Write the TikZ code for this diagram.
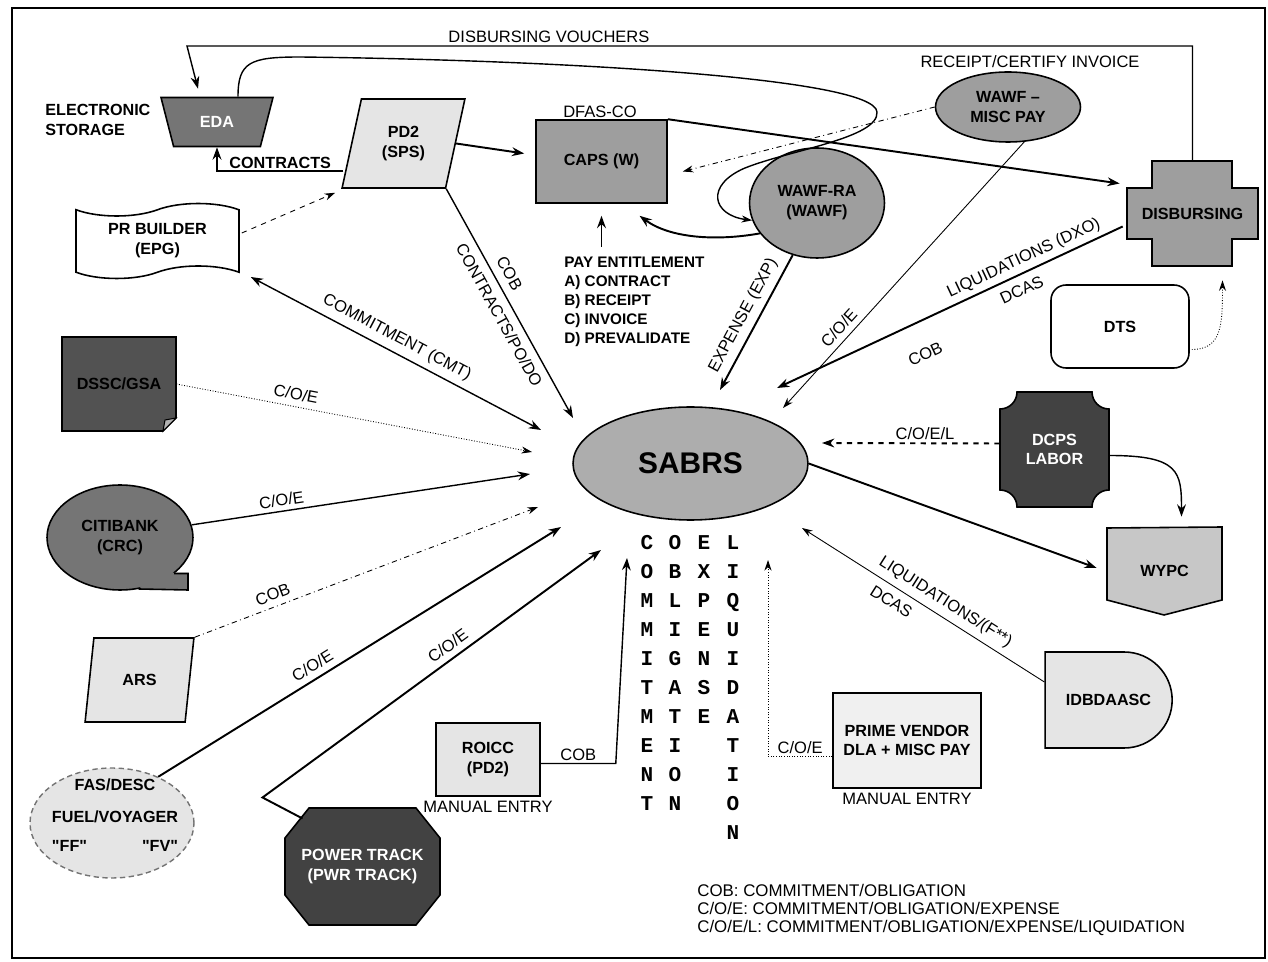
\documentclass[tikz,border=0pt]{standalone}
\usepackage{fontspec}
\setmainfont{Liberation Sans}
\newfontfamily\letterfont{Liberation Mono}
\newfontfamily\rawsans{Liberation Sans}[Ligatures=TeXOff]
\usetikzlibrary{arrows.meta,positioning,shapes.geometric,shapes.symbols,shapes.misc}
\colorlet{shadeD}{black!74}
\colorlet{shadeDM}{black!54}
\colorlet{shadeM}{black!38}
\colorlet{shadeW}{black!22}
\colorlet{shadeL}{black!10}
\newcommand\lblfont{\fontsize{9.4}{11}\selectfont}
\newcommand\boxfont{\fontsize{9.2}{11.3}\selectfont\bfseries}
\tikzset{
  box/.style={draw, line width=0.9pt, font=\boxfont, align=center, inner sep=0pt},
  tag/.style={font=\boxfont, align=center, inner sep=0pt},
  lbl/.style={font=\lblfont, inner sep=1.5pt},
  arr/.style={line width=1.1pt, -{Stealth[length=7pt,width=5pt]}},
  midarr/.style={line width=0.8pt, -{Stealth[length=7pt,width=5pt]}},
  thinarr/.style={line width=0.5pt, -{Stealth[length=6pt,width=4pt]}},
  botharr/.style={line width=0.8pt, {Stealth[length=7pt,width=5pt]}-{Stealth[length=7pt,width=5pt]}},
  letters/.style={font=\fontsize{12}{16.5}\selectfont\letterfont\bfseries, align=center, inner sep=0pt, anchor=north},
  para/.style={trapezium, trapezium left angle=74, trapezium right angle=106, trapezium stretches=true},
}
\begin{document}
\begin{tikzpicture}[x=0.02cm, y=-0.02cm]
\useasboundingbox (0,0) rectangle (1268,962);
\draw[line width=1pt] (12,8) rectangle (1265,958);

\node[box, trapezium, trapezium left angle=66, trapezium right angle=66, shape border rotate=180,
  trapezium stretches=true, minimum width=2.24cm, minimum height=0.98cm, fill=shadeDM, text=white] (EDA) at (217,122) {EDA};
\node[tag, anchor=west, align=left] (STOR) at (45,120) {ELECTRONIC\\STORAGE};
\node[box, para, fill=shadeL, minimum width=2.46cm, minimum height=1.78cm] (PD2) at (403.5,143.5) {PD2\\(SPS)};
\node[box, tape, fill=white, minimum width=3.26cm, minimum height=1.5cm, tape bend height=0.25cm] (PRB) at (157.5,241) {PR BUILDER\\(EPG)};
\node[box, fill=shadeM, minimum width=2.62cm, minimum height=1.66cm] (CAPS) at (601.5,161.5) {CAPS (W)};
\node[lbl] at (600,112) {DFAS-CO};
\node[box, ellipse, fill=shadeM, minimum width=2.7cm, minimum height=2.2cm] (WRA) at (817,203) {WAWF-RA\\(WAWF)};
\node[box, ellipse, fill=shadeM, minimum width=2.9cm, minimum height=1.4cm] (WMP) at (1008,107) {WAWF --\\MISC PAY};
\node[lbl] at (1030,62) {RECEIPT/CERTIFY INVOICE};
\filldraw[fill=shadeM, line width=0.9pt] (1152,161) -- (1232,161) -- (1232,188) -- (1258,188) -- (1258,239) -- (1232,239)
  -- (1232,266) -- (1152,266) -- (1152,239) -- (1127,239) -- (1127,188) -- (1152,188) -- cycle;
\node[tag, minimum width=2.62cm, minimum height=2.1cm] (DISB) at (1192.5,213.5) {DISBURSING};
\node[box, rounded corners=0.3cm, minimum width=2.76cm, minimum height=1.66cm] (DTS) at (1120,326.5) {DTS};
\node[tag, font=\fontsize{8.7}{10.7}\selectfont\bfseries, anchor=north west, align=left] (PAY) at (564,257)
  {PAY ENTITLEMENT\\A) CONTRACT\\B) RECEIPT\\C) INVOICE\\D) PREVALIDATE};

\node[box, ellipse, fill=black!32, minimum width=4.7cm, minimum height=2.26cm, font=\fontsize{17}{20}\selectfont\bfseries] (SABRS) at (690.5,463.5) {SABRS};
\node[letters] at (647,535) {C\\O\\M\\M\\I\\T\\M\\E\\N\\T};
\node[letters] at (675,535) {O\\B\\L\\I\\G\\A\\T\\I\\O\\N};
\node[letters] at (704,535) {E\\X\\P\\E\\N\\S\\E};
\node[letters] at (733,535) {L\\I\\Q\\U\\I\\D\\A\\T\\I\\O\\N};

\filldraw[fill=black!68, line width=0.9pt] (62,337) -- (176,337) -- (176,418) -- (163,431) -- (62,431) -- cycle;
\filldraw[fill=black!30, line width=0.6pt] (176,418) -- (165,420) -- (163,431) -- cycle;
\node[tag, minimum width=2.28cm, minimum height=1.88cm] (DSSC) at (119,384) {DSSC/GSA};
\node[box, ellipse, fill=shadeDM, minimum width=2.92cm, minimum height=2.1cm] (CITI) at (120,537.5) {CITIBANK\\(CRC)};
\fill[shadeDM] (160,566) -- (174,573) -- (188,573) -- (188,590) -- (138,590) -- cycle;
\draw[line width=0.9pt] (174,573.5) -- (188,573.5) -- (188,590) -- (139,589);
\node[box, para, fill=shadeL, minimum width=2.18cm, minimum height=1.68cm] (ARS) at (139.5,680) {ARS};
\node[ellipse, draw=black!55, densely dashed, line width=0.8pt, fill=shadeL, minimum width=3.28cm, minimum height=2.2cm] (FAS) at (112,823) {};
\node[tag] at ([shift={(3,-8)}]FAS.center) {FAS/DESC\\[7pt]FUEL/VOYAGER\\[5pt]{\rawsans"FF"}\hspace{1.1cm}{\rawsans"FV"}};
\filldraw[fill=shadeD, line width=0.9pt] (309,808) -- (416,808) -- (440,838) -- (440,895) -- (416,925) -- (309,925) -- (285,895) -- (285,838) -- cycle;
\node[tag, text=white, minimum width=3.1cm, minimum height=2.34cm] (PWR) at (362.5,866.5) {POWER TRACK\\(PWR TRACK)};
\node[box, fill=shadeL, minimum width=2.08cm, minimum height=1.46cm] (ROICC) at (488,759.5) {ROICC\\(PD2)};
\node[lbl, below=1pt of ROICC] {MANUAL ENTRY};
\node[box, fill=black!6, minimum width=2.96cm, minimum height=1.9cm] (PRIME) at (907,740.5) {PRIME VENDOR\\DLA + MISC PAY};
\node[lbl, below=1pt of PRIME] {MANUAL ENTRY};

\filldraw[fill=shadeD, line width=0.9pt] (1017,392) -- (1092,392) arc (180:90:17) -- (1109,490) arc (270:180:17)
  -- (1017,507) arc (0:-90:17) -- (1000,409) arc (90:0:17) -- cycle;
\node[tag, text=white, minimum width=2.18cm, minimum height=2.3cm] (DCPS) at (1054.5,449.5) {DCPS\\LABOR};
\filldraw[fill=shadeW, line width=0.9pt] (1107,528) -- (1222,527) -- (1222,600) -- (1164,615) -- (1107,600) -- cycle;
\node[tag, minimum width=2.3cm, minimum height=1.76cm] (WYPC) at (1164.5,571) {WYPC};
\node[box, rounded rectangle, rounded rectangle left arc=none, fill=shadeL, minimum width=2.54cm, minimum height=1.92cm] (IDB) at (1108.5,700) {IDBDAASC};

\node[lbl, anchor=north west, align=left, font=\fontsize{9.6}{10.3}\selectfont, inner sep=0pt] (KEY) at (697,884)
  {COB: COMMITMENT/OBLIGATION\\C/O/E: COMMITMENT/OBLIGATION/EXPENSE\\C/O/E/L: COMMITMENT/OBLIGATION/EXPENSE/LIQUIDATION};

\coordinate (dvL) at (187,46);
\coordinate (inCON) at (573,418);
\coordinate (inCMT) at (541,430);
\coordinate (inDSSC) at (532,452);
\coordinate (inCITI) at (530,474);
\coordinate (inARS) at (538,507);
\coordinate (inFAS) at (561,527);
\coordinate (inPWR) at (601,550);
\coordinate (inROICC) at (627,558);
\coordinate (inPRIME) at (768,560);
\coordinate (inIDB) at (802,528);
\coordinate (inDCPS) at (822,443);
\coordinate (inMISC) at (783,408);
\coordinate (inLIQ) at (777,388);
\coordinate (inEXP) at (720,390);

\draw[midarr] (DISB.north) |- node[lbl, above, pos=0.82] {DISBURSING VOUCHERS} (dvL) -- ([shift={(-19,-8)}]EDA.90);
\draw[line width=0.8pt, -{Stealth[length=6pt,width=4pt]}] ([shift={(21,0)}]EDA.90) .. controls (238,62) and (250,57) .. (300,57)
  .. controls (560,60) and (875,78) .. (877,112) .. controls (879,138) and (790,150) .. (745,168)
  .. controls (705,185) and (712,215) .. (WRA.195);
\draw[arr] ([shift={(-7.5,27.5)}]PD2.west) -| node[tag, above=1pt, pos=0.25] {CONTRACTS} (EDA.-90);
\draw[thinarr, dashed] ([shift={(2,-8)}]PRB.east) -- ([shift={(-6,4)}]PD2.bottom left corner);
\draw[arr] (PD2.east) -- ([shift={(-11,-8)}]CAPS.west);
\draw[arr, shorten <=0.2cm, shorten >=0.24cm] (CAPS.south |- PAY.north) -- (CAPS.south);
\draw[arr] (WRA.208) .. controls +(-45,8) and +(30,22) .. ([shift={(38,12)}]CAPS.south);
\draw[thinarr, dash dot] (WMP.west) -- ([shift={(15,10)}]CAPS.east);
\draw[arr] (CAPS.north east) -- ([shift={(-7,-30)}]DISB.west);
\draw[thinarr] (WMP.-65) -- node[lbl, sloped, above=2pt, pos=0.73] {C/O/E} (inMISC);
\draw[arr] ([shift={(-4,13)}]DISB.west) -- node[lbl, sloped, above=1pt, pos=0.27] {LIQUIDATIONS (DXO)}
  node[lbl, sloped, below=3pt, pos=0.31] {DCAS} node[lbl, sloped, below=0.45cm, pos=0.61] {COB} (inLIQ);
\draw[arr] (WRA.-115) -- node[lbl, sloped, above=2pt] {EXPENSE (EXP)} (inEXP);
\draw[thinarr, densely dotted] ([shift={(2,23)}]DTS.east) .. controls +(30,0) and +(0,45) .. ([shift={(30,14)}]DISB.south);

\draw[midarr] (PD2.bottom right corner) -- node[lbl, sloped, above=3pt, pos=0.4] {COB}
  node[lbl, sloped, below=3pt, pos=0.52] {CONTRACTS/PO/DO} (inCON);
\draw[botharr] ([shift={(11,36)}]PRB.east) -- node[lbl, sloped, above=2pt, pos=0.48] {COMMITMENT (CMT)} (inCMT);
\draw[thinarr, densely dotted] (DSSC.east) -- node[lbl, sloped, above=2pt, pos=0.33] {C/O/E} (inDSSC);
\draw[midarr] (CITI.10) -- node[lbl, sloped, above=1pt, pos=0.27] {C/O/E} (inCITI);
\draw[thinarr, dash dot] (ARS.top right corner) -- node[lbl, sloped, above=2pt, pos=0.24] {COB} (inARS);
\draw[arr] (FAS.45) -- node[lbl, sloped, above=2pt, pos=0.4] {C/O/E} (inFAS);
\draw[arr] ([shift={(-60,-48)}]PWR.center) -- ++(-40,-21) -- node[lbl, sloped, above=2pt, pos=0.57] {C/O/E} (inPWR);
\draw[midarr] ([shift={(0,4)}]ROICC.east) -- node[lbl, above] {COB} ++(75,0) -- (inROICC);
\draw[thinarr, densely dotted] ([shift={(0,16)}]PRIME.west) -| node[lbl, above, pos=0.25] {C/O/E} (inPRIME);
\draw[thinarr] ([shift={(0,-18)}]IDB.west) -- node[lbl, sloped, above=2pt, pos=0.44] {LIQUIDATIONS/(F**)}
  node[lbl, sloped, below=3pt, pos=0.6] {DCAS} (inIDB);
\draw[arr] (SABRS.east) -- ([shift={(-10,-3)}]WYPC.west);
\draw[arr, dashed] ([shift={(0,-6)}]DCPS.west) -- node[lbl, above, pos=0.42] {C/O/E/L} (inDCPS);
\draw[midarr] ([shift={(0,6)}]DCPS.east) .. controls +(70,0) and +(0,-45) .. ([shift={(17,-10)}]WYPC.north);
\end{tikzpicture}
\end{document}
